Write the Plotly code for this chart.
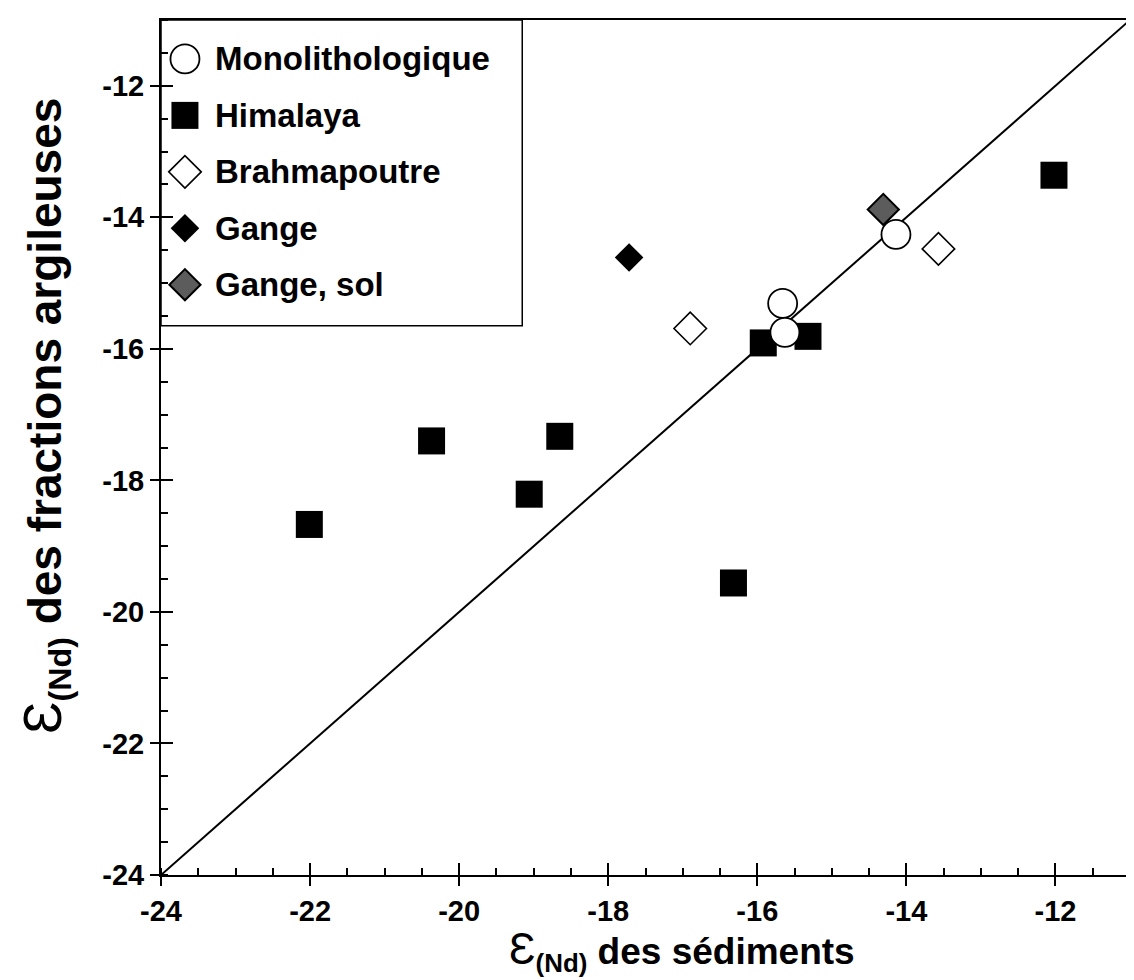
import plotly.graph_objects as go

# ---------------- data ----------------
mono_x = [-14.14, -15.66, -15.63]
mono_y = [-14.26, -15.31, -15.75]

him_x = [-12.02, -20.37, -18.65, -19.06, -22.01, -16.32, -15.92, -15.32]
him_y = [-13.36, -17.40, -17.33, -18.21, -18.67, -19.56, -15.91, -15.81]

brahma_x = [-16.90, -13.57]
brahma_y = [-15.69, -14.48]

gange_x = [-17.72]
gange_y = [-14.61]

sol_x = [-14.31]
sol_y = [-13.88]

line_x = [-24, -11]
line_y = [-24, -11]

tick_vals = [-24, -22, -20, -18, -16, -14, -12]
tick_text = ["-24", "-22", "-20", "-18", "-16", "-14", "-12"]

legend_names = ["Monolithologique", "Himalaya", "Brahmapoutre", "Gange", "Gange, sol"]

# ---------------- styles ----------------
FONT = "Liberation Sans, Arial, sans-serif"
styles = {
    "Monolithologique": dict(symbol="circle", size=29, color="white", line=dict(color="black", width=1.8)),
    "Himalaya": dict(symbol="square", size=27, color="black", line=dict(color="black", width=0)),
    "Brahmapoutre": dict(symbol="diamond", size=25, color="white", line=dict(color="black", width=1.6)),
    "Gange": dict(symbol="diamond", size=22, color="black", line=dict(color="black", width=0)),
    "Gange, sol": dict(symbol="diamond", size=24, color="#5c5c5c", line=dict(color="black", width=2)),
}

fig = go.Figure()

# 1:1 line
fig.add_trace(go.Scatter(x=line_x, y=line_y, mode="lines",
                         line=dict(color="black", width=2), showlegend=False, hoverinfo="skip"))

series = [
    ("Gange, sol", sol_x, sol_y),
    ("Himalaya", him_x, him_y),
    ("Brahmapoutre", brahma_x, brahma_y),
    ("Gange", gange_x, gange_y),
    ("Monolithologique", mono_x, mono_y),
]
for name, xs, ys in series:
    fig.add_trace(go.Scatter(x=xs, y=ys, mode="markers", name=name,
                             marker=styles[name], showlegend=False))

# invisible trace for the overlay tick axes (inside half of major ticks)
fig.add_trace(go.Scatter(x=[line_x[0]], y=[line_y[0]], xaxis="x2", yaxis="y2", mode="markers",
                         marker=dict(opacity=0), showlegend=False, hoverinfo="skip"))

# ---------------- manual legend (in a pixel-unit overlay axis) ----------------
PW, PH = 971, 856
row0, drow = 39, 56.5
for i, name in enumerate(legend_names):
    fig.add_trace(go.Scatter(x=[24], y=[row0 + i * drow], xaxis="x3", yaxis="y3", mode="markers",
                             marker=styles[name], showlegend=False, hoverinfo="skip"))
    fig.add_annotation(x=52, y=row0 + i * drow, xref="x3", yref="y3", text=name, showarrow=False,
                       xanchor="left", yanchor="middle",
                       font=dict(family=FONT, size=33, color="black", weight="bold"))
fig.add_shape(type="rect", xref="x3", yref="y3", x0=0, x1=362, y0=0, y1=306,
              line=dict(color="black", width=1.5), fillcolor="white", layer="below")

# ---------------- axes ----------------
common = dict(showgrid=False, zeroline=False, showline=True, linecolor="black", linewidth=2,
              mirror=True, ticks="outside", ticklen=9, tickwidth=1.5, tickcolor="black",
              tickmode="array", tickvals=tick_vals, ticktext=tick_text,
              tickfont=dict(family=FONT, size=29, color="black", weight="bold"),
              range=[-24, -11],
              minor=dict(ticks="inside", ticklen=7, tickwidth=1.5, tickcolor="black",
                         tickmode="linear", tick0=-24, dtick=0.5))
fig.update_layout(
    xaxis=dict(**common, domain=[0, 1]),
    yaxis=dict(**common, domain=[0, 1]),
    xaxis2=dict(overlaying="x", matches="x", anchor="y2", side="bottom", showgrid=False, zeroline=False,
                showline=False, ticks="inside", ticklen=12, tickwidth=1.5, tickcolor="black",
                tickmode="array", tickvals=tick_vals, showticklabels=False, range=[-24, -11]),
    yaxis2=dict(overlaying="y", matches="y", anchor="x2", side="left", showgrid=False, zeroline=False,
                showline=False, ticks="inside", ticklen=12, tickwidth=1.5, tickcolor="black",
                tickmode="array", tickvals=tick_vals, showticklabels=False, range=[-24, -11]),
    xaxis3=dict(overlaying="x", anchor="y3", visible=False, range=[0, PW]),
    yaxis3=dict(overlaying="y", anchor="x3", visible=False, range=[PH, 0]),
)

# axis titles
eps = '<span style="font-weight:normal;font-size:44px">Ɛ</span>'
fig.add_annotation(xref="paper", yref="paper", x=0.5376, y=-0.0888, showarrow=False,
                   xanchor="center", yanchor="middle",
                   text=eps + "<sub>(Nd)</sub> des sédiments",
                   font=dict(family=FONT, size=37, color="black", weight="bold"))
eps_y = '<span style="font-weight:normal;font-size:54px">Ɛ</span>'
fig.add_annotation(xref="paper", yref="paper", x=-0.1195, y=0.537, showarrow=False, textangle=-90,
                   xanchor="center", yanchor="middle",
                   text=eps_y + "<sub>(Nd)</sub> des fractions argileuses",
                   font=dict(family=FONT, size=46, color="black", weight="bold"))

fig.update_layout(
    width=1134, height=980,
    margin=dict(l=153, r=10, t=11, b=113),
    paper_bgcolor="white", plot_bgcolor="white",
    showlegend=False,
)

fig.write_html("out.html")
